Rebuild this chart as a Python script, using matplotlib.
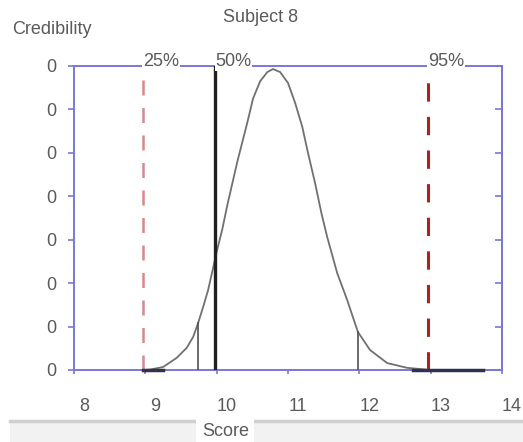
import matplotlib
matplotlib.use("Agg")
import matplotlib.pyplot as plt
from matplotlib.patches import Rectangle
from matplotlib.lines import Line2D
from matplotlib.ticker import FormatStrFormatter, FixedLocator
import matplotlib.transforms as mtransforms

plt.rcParams['font.family'] = ['Liberation Sans', 'DejaVu Sans']

# credibility curve
score = [8.97, 9.07, 9.25, 9.44, 9.58, 9.67, 9.74, 9.81, 9.88, 9.95, 10.0,
         10.08, 10.15, 10.22, 10.29, 10.36, 10.43, 10.51, 10.61, 10.71, 10.79,
         10.89, 11.0, 11.1, 11.2, 11.28, 11.38, 11.47, 11.55, 11.69, 11.83,
         11.98, 12.15, 12.39, 12.67, 13.0, 13.73]
cred = [0.0, 0.001, 0.007, 0.028, 0.051, 0.076, 0.108, 0.145, 0.184, 0.235, 0.272,
        0.325, 0.38, 0.43, 0.48, 0.525, 0.57, 0.625, 0.665, 0.686, 0.693,
        0.686, 0.661, 0.615, 0.560, 0.50, 0.43, 0.36, 0.306, 0.223, 0.161,
        0.0875, 0.046, 0.016, 0.005, 0.0, 0.0]

# marker lines
pct_labels = ["25%", "50%", "95%"]
pct_x = [8.97, 9.98, 12.96]
inner_x = [9.74, 11.98]
inner_h = [0.108, 0.0875]
tail_left = [8.97, 9.25]
tail_right = [12.75, 13.73]

x_ticks = [8, 9, 10, 11, 12, 13, 14]
y_ticks = [0, 0.1, 0.2, 0.3, 0.4, 0.5, 0.6, 0.7]

blue = "#7878d8"
grey_txt = "#5a5a5a"

fig = plt.figure(figsize=(5.23, 4.42), dpi=100)
ax = fig.add_axes([74 / 523, 72 / 442, 428 / 523, 304 / 442])

ax.plot(score, cred, color="#707070", lw=1.3, zorder=3, solid_joinstyle='round')
ax.plot(tail_left, [0, 0], color="#303050", lw=2.5, zorder=4, clip_on=False)
ax.plot(tail_right, [0, 0], color="#303050", lw=2.5, zorder=4, clip_on=False)

ax.axvline(pct_x[0], color="#d88888", lw=1.8, dashes=(6, 5), zorder=2)
ax.axvline(pct_x[1], color="#202020", lw=2.4, zorder=3)
ax.axvline(pct_x[2], color="#b02020", lw=2.2, dashes=(6, 5), zorder=2)
for x, h in zip(inner_x, inner_h):
    ax.plot([x, x], [0, h], color="#505050", lw=1.2, zorder=3)

ax.set_xlim(8, 14)
ax.set_ylim(0, 0.7)
ax.xaxis.set_major_locator(FixedLocator(x_ticks))
ax.yaxis.set_major_locator(FixedLocator(y_ticks))
ax.yaxis.set_major_formatter(FormatStrFormatter('%d'))

for s in ax.spines.values():
    s.set_color(blue)
    s.set_linewidth(1.4)

ax.tick_params(axis='y', direction='out', length=4, width=1.2, color=blue,
               labelcolor=grey_txt, labelsize=13, pad=9)
ax.tick_params(axis='x', direction='out', length=3, width=1.2, color=blue,
               labelcolor=grey_txt, labelsize=13, pad=17)
offset = mtransforms.ScaledTranslation(10 / 100, 0, fig.dpi_scale_trans)
for lab in ax.get_xticklabels():
    lab.set_transform(lab.get_transform() + offset)

ry = ax.secondary_yaxis('right')
ry.set_yticks(y_ticks)
ry.tick_params(direction='in', length=5, width=1.2, color=blue, labelright=False)
ry.spines['right'].set_color(blue)
ry.spines['right'].set_linewidth(1.4)

for lab, x in zip(pct_labels, pct_x):
    ax.text(x, 0.7, lab, ha='left', va='baseline', fontsize=13, color=grey_txt,
            bbox=dict(facecolor='white', edgecolor='none', pad=0.5),
            zorder=5, clip_on=False)

fig.text(261 / 523, 1 - 18 / 442, "Subject 8", ha='center', va='center',
         fontsize=13, color=grey_txt)
fig.text(12 / 523, 1 - 29 / 442, "Credibility", ha='left', va='center',
         fontsize=13, color=grey_txt)

# bottom band with the axis title
fig.patches.append(Rectangle((10 / 523, 0), 1, 21 / 442, transform=fig.transFigure,
                             facecolor="#f2f2f2", edgecolor='none', zorder=0))
fig.lines.append(Line2D([10 / 523, 1], [21 / 442, 21 / 442], transform=fig.transFigure,
                        color="#d0d0d0", lw=2.5, zorder=1))
fig.patches.append(Rectangle((196 / 523, 0), 58 / 523, 23 / 442, transform=fig.transFigure,
                             facecolor="white", edgecolor='none', zorder=2))
fig.text(226 / 523, 10 / 442, "Score", ha='center', va='center',
         fontsize=13, color=grey_txt, zorder=3)

fig.savefig("out.png", dpi=100)
